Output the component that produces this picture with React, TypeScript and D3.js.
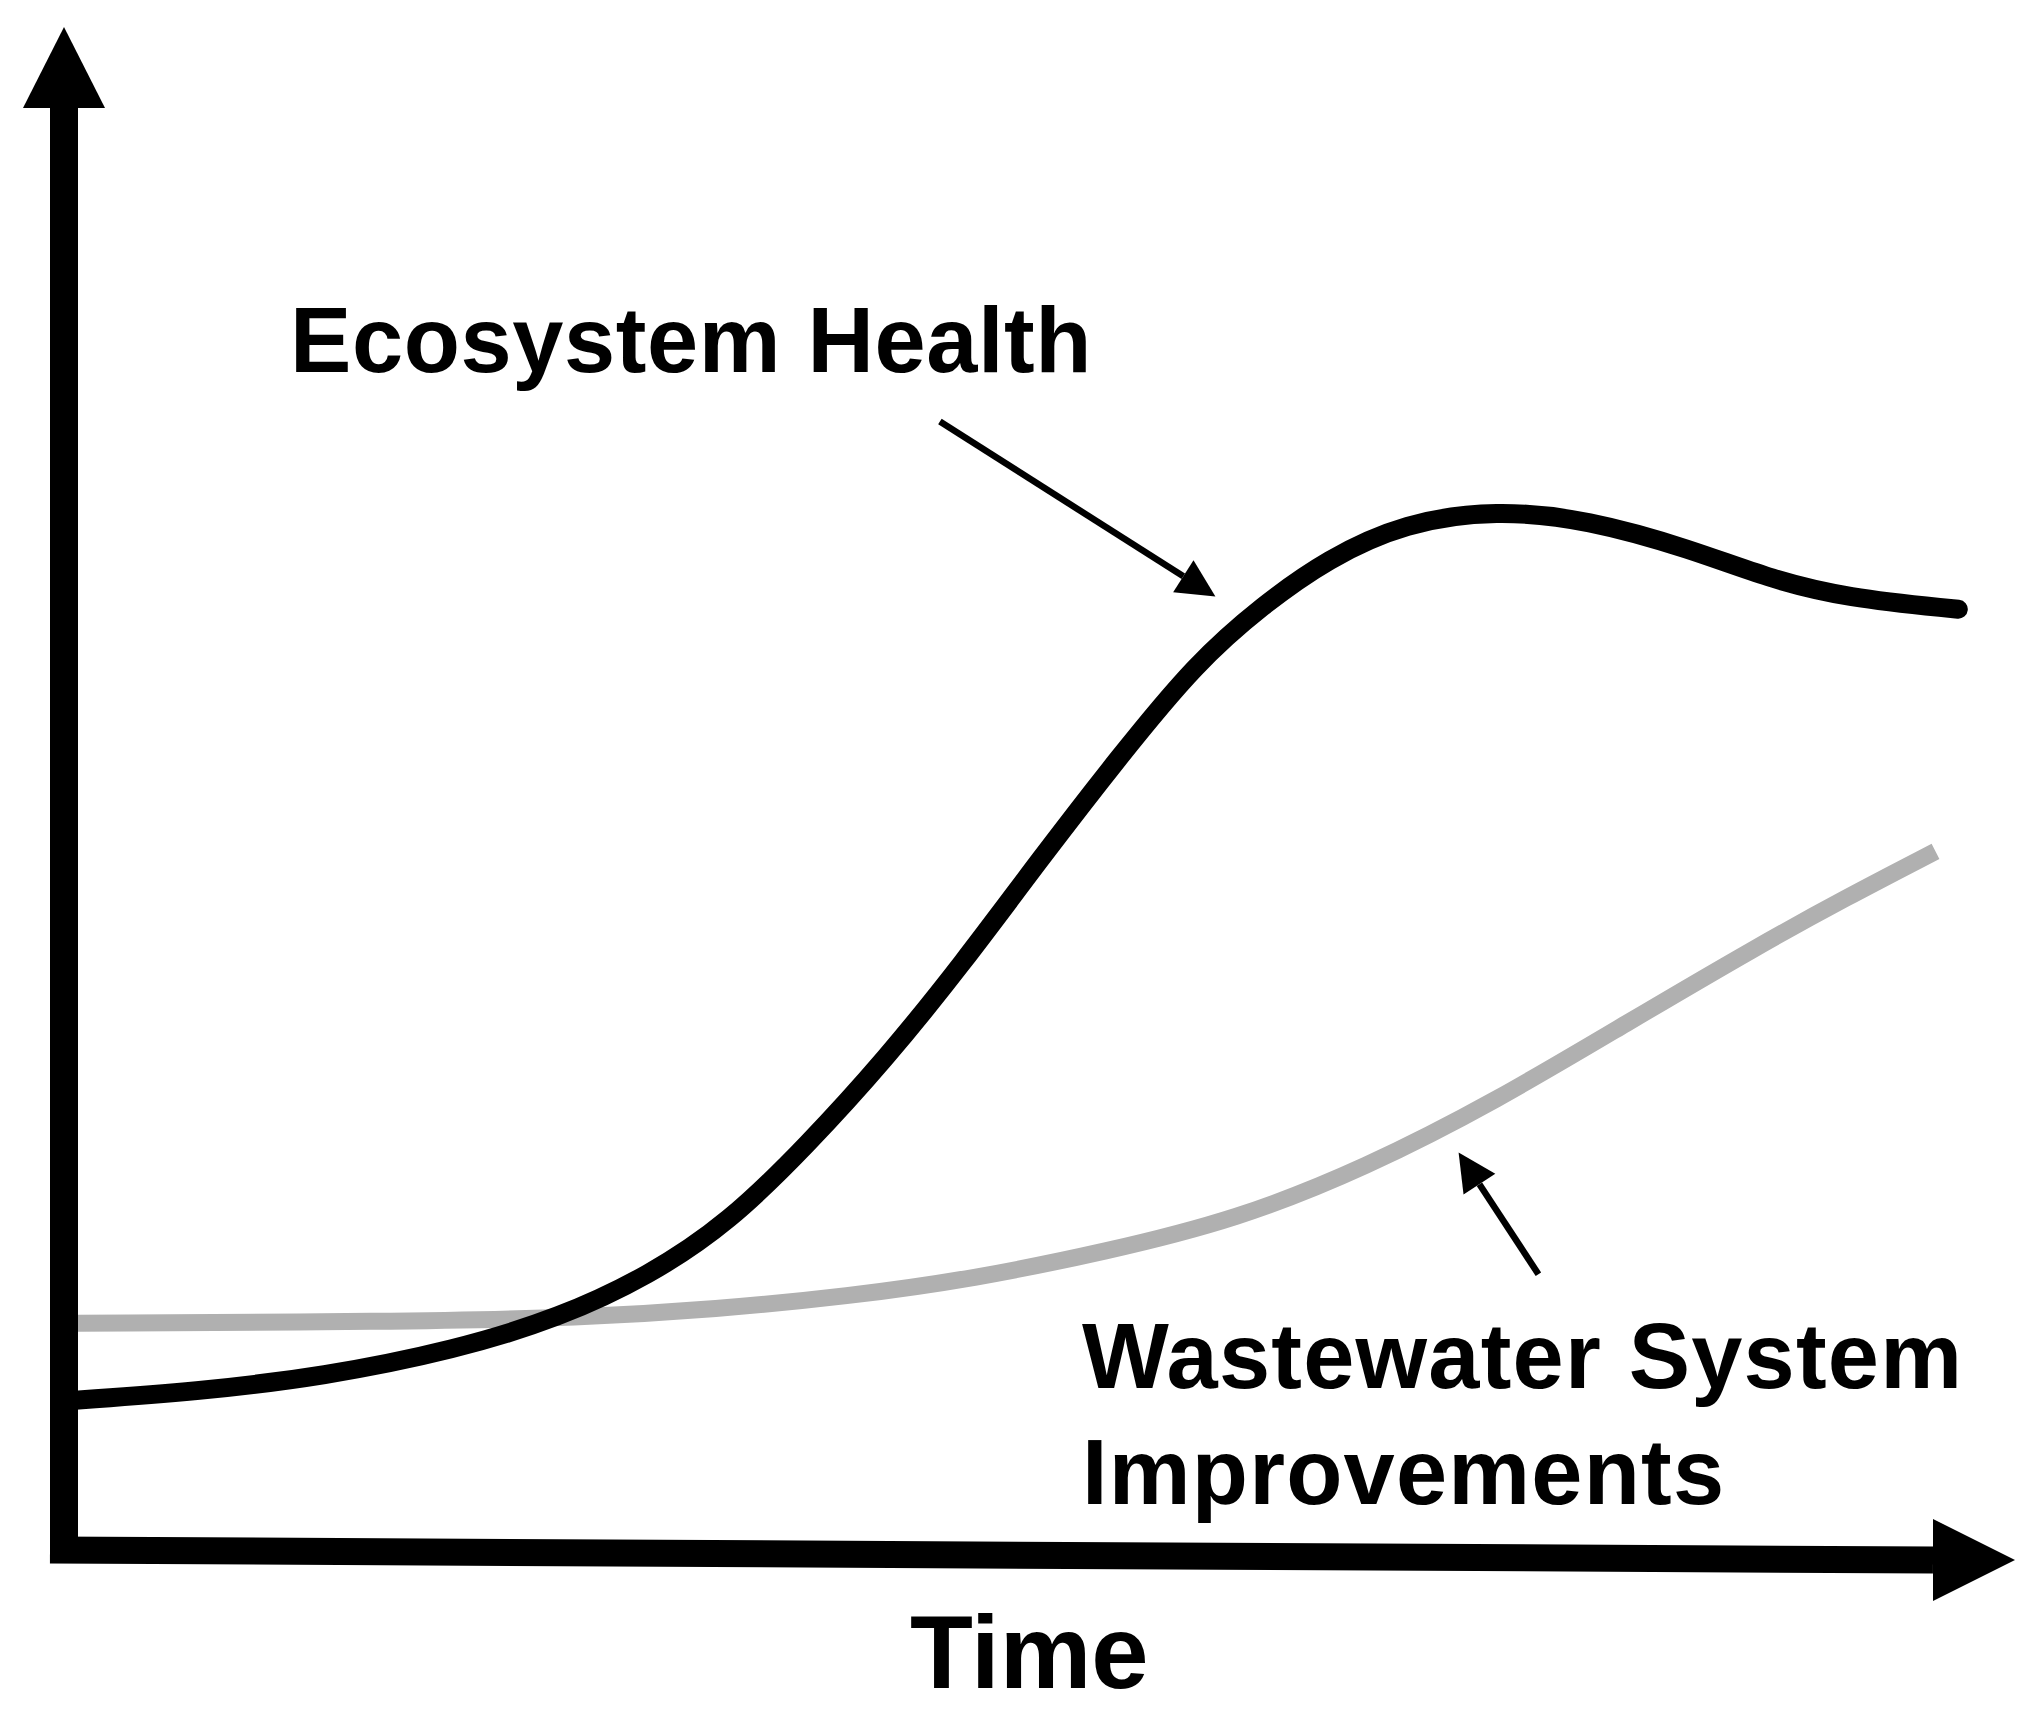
import React from "react";
import * as d3 from "d3";

const W = 2040;
const H = 1713;

// Ecosystem Health curve (time units 0-100, value units 0-100)
const ecoTime = [0.6, 6.9, 13.7, 20.6, 26.1, 30.8, 35.0, 39.1, 43.2, 47.3, 51.4, 55.5, 59.6, 63.1, 66.5, 70.6, 75.4, 80.2, 85.6, 89.7, 93.8, 99.7];
const ecoValue = [10.7, 11.3, 12.4, 14.3, 16.6, 19.6, 23.4, 28.9, 35.0, 41.9, 49.4, 56.6, 63.4, 67.5, 70.8, 73.4, 74.3, 73.6, 71.5, 69.4, 68.0, 67.2];

// Wastewater System Improvements curve
const wwTime = [0.7, 17.2, 27.4, 34.3, 41.2, 48.0, 54.8, 61.7, 68.5, 75.4, 82.2, 89.1, 93.8, 98.5];
const wwValue = [16.2, 16.3, 16.6, 17.2, 18.1, 19.4, 21.3, 23.6, 27.3, 32.1, 37.6, 43.1, 46.6, 49.9];

// annotation arrows: [fromTime, fromValue, toTime, toValue]
const ecoArrow = [46.1, 80.6, 60.6, 68.1];
const wwArrow = [77.6, 19.7, 73.4, 28.4];

const labels = ["Ecosystem Health", "Wastewater System", "Improvements", "Time"];

const x = d3.scaleLinear().domain([0, 100]).range([64, 1964]);
const y = d3.scaleLinear().domain([0, 100]).range([1550, 150]);

const line = d3
  .line<[number, number]>()
  .x((d) => x(d[0]))
  .y((d) => y(d[1]))
  .curve(d3.curveBasis);

function arrowHead(x1: number, y1: number, x2: number, y2: number, len: number, half: number) {
  const dx = x2 - x1;
  const dy = y2 - y1;
  const L = Math.hypot(dx, dy);
  const ux = dx / L;
  const uy = dy / L;
  const bx = x2 - ux * len;
  const by = y2 - uy * len;
  const px = -uy;
  const py = ux;
  return {
    pts: `${x2},${y2} ${bx + px * half},${by + py * half} ${bx - px * half},${by - py * half}`,
    bx,
    by,
  };
}

function Annotation({ a }: { a: number[] }) {
  const x1 = x(a[0]);
  const y1 = y(a[1]);
  const x2 = x(a[2]);
  const y2 = y(a[3]);
  const h = arrowHead(x1, y1, x2, y2, 38, 19);
  return (
    <g>
      <line x1={x1} y1={y1} x2={h.bx} y2={h.by} stroke="#000" strokeWidth={6.5} />
      <polygon points={h.pts} fill="#000" />
    </g>
  );
}

export default function App() {
  const eco: [number, number][] = ecoTime.map((t, i) => [t, ecoValue[i]]);
  const ww: [number, number][] = wwTime.map((t, i) => [t, wwValue[i]]);

  const axisX0 = x(0);
  const yTop = 108;
  const xEnd = 1933;
  const yBottomRight = 1560;

  const font = "'Liberation Sans', Arial, Helvetica, sans-serif";

  return (
    <svg
      width={W}
      height={H}
      viewBox={`0 0 ${W} ${H}`}
      style={{ position: "absolute", left: 0, top: 0, display: "block", background: "#fff" }}
    >
      <rect x={0} y={0} width={W} height={H} fill="#fff" />

      {/* gray curve */}
      <path d={line(ww) || ""} fill="none" stroke="#b0b0b0" strokeWidth={17} />
      {/* black curve */}
      <path d={line(eco) || ""} fill="none" stroke="#000" strokeWidth={19} strokeLinecap="round" />

      {/* y axis */}
      <line x1={axisX0} y1={1561} x2={axisX0} y2={yTop} stroke="#000" strokeWidth={28} />
      <polygon points={`${axisX0},27 ${axisX0 - 41},${yTop} ${axisX0 + 41},${yTop}`} fill="#000" />

      {/* x axis */}
      <line x1={axisX0 - 14} y1={y(0)} x2={xEnd} y2={yBottomRight} stroke="#000" strokeWidth={27} />
      <polygon
        points={`2015,${yBottomRight} ${xEnd},${yBottomRight - 41} ${xEnd},${yBottomRight + 41}`}
        fill="#000"
      />

      <Annotation a={ecoArrow} />
      <Annotation a={wwArrow} />

      <g fontFamily={font} fontWeight="bold" fill="#000">
        <text x={290} y={372} fontSize={92} letterSpacing={0.6}>
          {labels[0]}
        </text>
        <text x={1082} y={1388} fontSize={92} letterSpacing={1.2}>
          {labels[1]}
        </text>
        <text x={1082} y={1504} fontSize={92} letterSpacing={1.2}>
          {labels[2]}
        </text>
        <text x={910} y={1688} fontSize={103}>
          {labels[3]}
        </text>
      </g>
    </svg>
  );
}
